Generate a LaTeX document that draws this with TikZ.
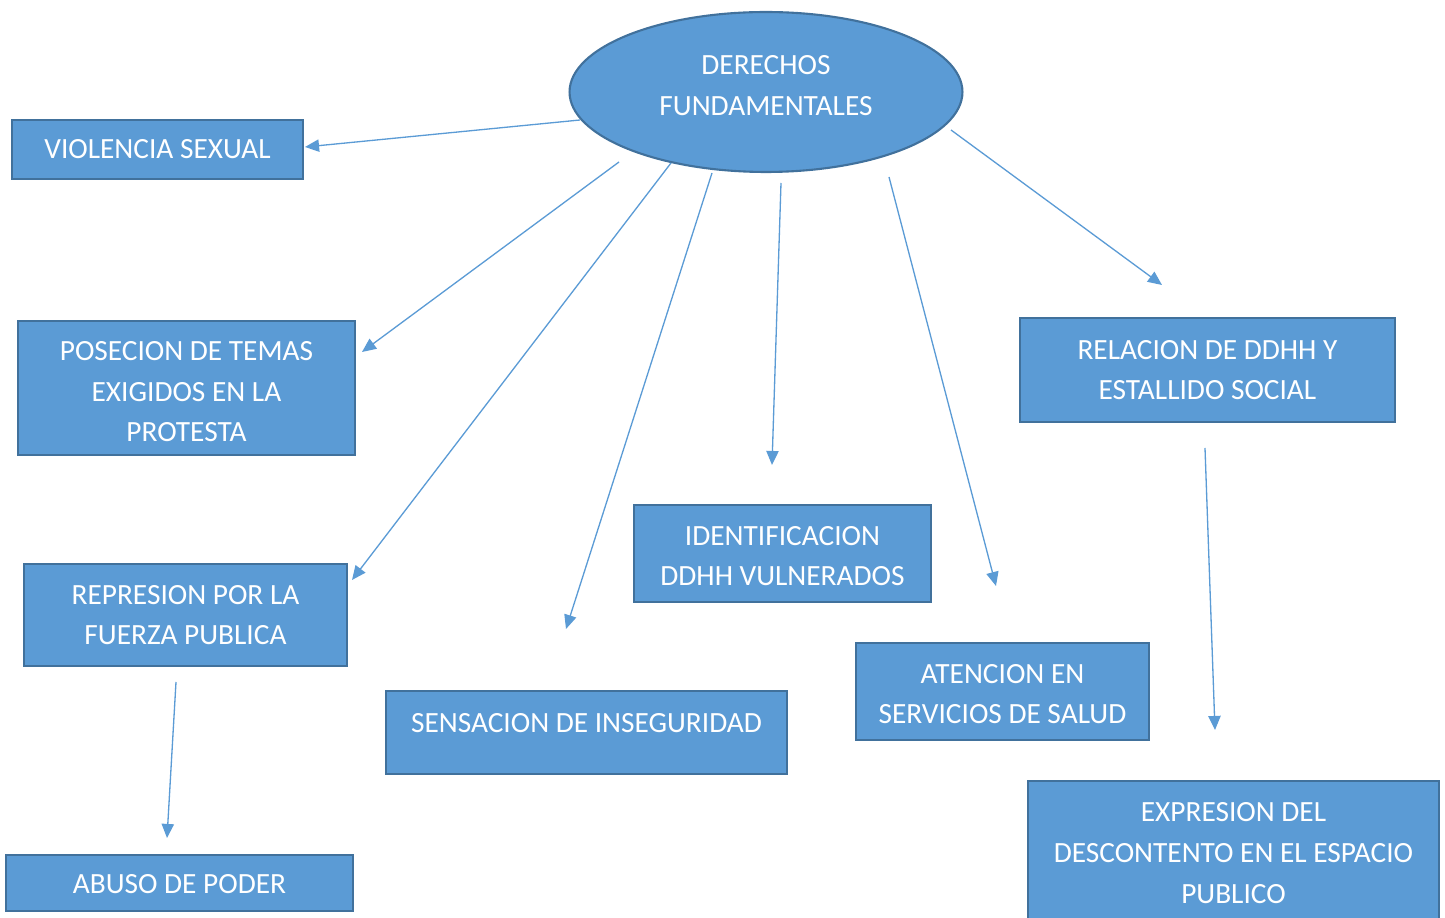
\documentclass[tikz,border=0pt]{standalone}
\usepackage{fontspec}
\setmainfont{Carlito}
\usetikzlibrary{shapes.geometric,arrows.meta}
\definecolor{boxblue}{HTML}{5B9BD5}
\definecolor{edgeblue}{HTML}{41719C}
\tikzset{
    tema/.style={rectangle, draw=edgeblue, line width=1.4pt, fill=boxblue, text=white, align=center,
        font=\fontsize{16.7}{23.2}\selectfont, inner sep=2pt},
    link/.style={draw=boxblue, line width=0.75pt, -{Triangle[length=8pt, width=7pt]}}
}
\begin{document}
\begin{tikzpicture}[x=0.02cm, y=-0.02cm]
    \useasboundingbox (0,0) rectangle (1445,918);
    % centro
    \node[ellipse, draw=edgeblue, line width=1.2pt, fill=boxblue, text=white, align=center,
        font=\fontsize{16.7}{23.2}\selectfont, minimum width=7.86cm, minimum height=3.2cm, inner sep=0pt]
        (der) at (766,92) {\raisebox{3pt}{DERECHOS}\\\raisebox{3pt}{FUNDAMENTALES}\rule[-4pt]{0pt}{0pt}};
    % temas
    \node[tema, minimum width=5.82cm, minimum height=1.18cm] (vio) at (157.5,149.5) {VIOLENCIA SEXUAL};
    \node[tema, minimum width=6.74cm, minimum height=2.68cm] (pos) at (186.5,388) {\rule{0pt}{15pt}POSECION DE TEMAS\\EXIGIDOS EN LA\\PROTESTA};
    \node[tema, minimum width=6.46cm, minimum height=2.04cm] (rep) at (185.5,615) {REPRESION POR LA\\FUERZA PUBLICA};
    \node[tema, minimum width=6.94cm, minimum height=1.12cm] (abu) at (179.5,883) {\rule{0pt}{12.4pt}ABUSO DE PODER};
    \node[tema, minimum width=8.02cm, minimum height=1.66cm] (sen) at (586.5,732.5) {SENSACION DE INSEGURIDAD\rule[-11.4pt]{0pt}{0pt}};
    \node[tema, minimum width=5.94cm, minimum height=1.94cm] (ide) at (782.5,553.5) {\rule{0pt}{13.8pt}IDENTIFICACION\\DDHH VULNERADOS};
    \node[tema, minimum width=5.86cm, minimum height=1.94cm] (ate) at (1002.5,691.5) {\rule{0pt}{13.8pt}ATENCION EN\\SERVICIOS DE SALUD};
    \node[tema, minimum width=7.5cm, minimum height=2.08cm] (rel) at (1207.5,370) {RELACION DE DDHH Y\\ESTALLIDO SOCIAL};
    \node[tema, minimum width=8.22cm, minimum height=2.88cm] (exp) at (1233.5,853) {EXPRESION DEL\\DESCONTENTO EN EL ESPACIO\\PUBLICO};
    % extremos de las flechas
    \coordinate (s1) at (580,120);  \coordinate (t1) at (305,147);
    \coordinate (s2) at (619,162);  \coordinate (t2) at (362,352);
    \coordinate (s3) at (671,163);  \coordinate (t3) at (352,580);
    \coordinate (s4) at (712,173);  \coordinate (t4) at (566,629);
    \coordinate (s5) at (781,183);  \coordinate (t5) at (772,465);
    \coordinate (s6) at (889,177);  \coordinate (t6) at (996,586);
    \coordinate (s7) at (951,130);  \coordinate (t7) at (1162,285);
    \coordinate (s8) at (1205,448); \coordinate (t8) at (1215,730);
    \coordinate (s9) at (176,682);  \coordinate (t9) at (167,838);
    \foreach \i in {1,...,9}
        \draw[link] (s\i) -- (t\i);
\end{tikzpicture}
\end{document}
